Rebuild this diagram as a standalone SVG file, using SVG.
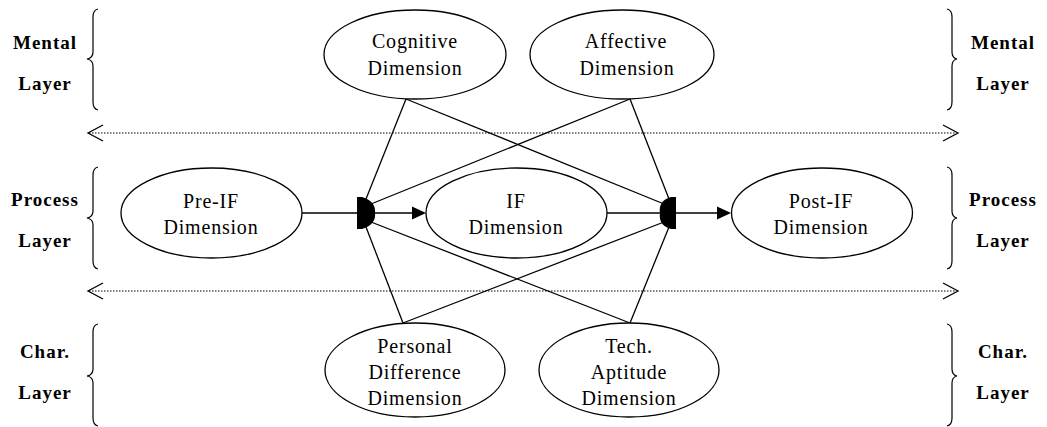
<svg xmlns="http://www.w3.org/2000/svg" width="1047" height="427" viewBox="0 0 1047 427">
<style>
.node ellipse{fill:#fff;stroke:#000;stroke-width:1.3}
.nt{font-family:"Liberation Serif","Times New Roman",serif;font-size:20px;letter-spacing:0.8px;text-anchor:middle;fill:#000}
.lab{font-family:"Liberation Serif","Times New Roman",serif;font-size:19px;font-weight:bold;letter-spacing:1px;text-anchor:middle;fill:#000}
.brace{fill:none;stroke:#000;stroke-width:1.2}
.ln{stroke:#000;stroke-width:1.3;fill:none}
.dot{stroke:#000;stroke-width:1.2;stroke-dasharray:1.5 1.5;fill:none}
.chev{stroke:#000;stroke-width:1.3;fill:none}
.head{fill:#000;stroke:none}
</style>
<rect width="1047" height="427" fill="#fff"/>

<g id="layer-labels">
<text class="lab" x="45" y="49">Mental</text>
<text class="lab" x="45" y="90">Layer</text>
<text class="lab" x="1003" y="49">Mental</text>
<text class="lab" x="1003" y="90">Layer</text>
<text class="lab" x="45" y="206">Process</text>
<text class="lab" x="45" y="247">Layer</text>
<text class="lab" x="1003" y="206">Process</text>
<text class="lab" x="1003" y="247">Layer</text>
<text class="lab" x="45" y="358">Char.</text>
<text class="lab" x="45" y="399">Layer</text>
<text class="lab" x="1003" y="358">Char.</text>
<text class="lab" x="1003" y="399">Layer</text>
</g>

<g id="braces">
<path class="brace" d="M98,9 Q93,10 93,17 L93,52 Q93,58 87,59 Q93,60 93,66 L93,102 Q93,109 98,110"/>
<path class="brace" d="M947,9 Q952,10 952,17 L952,52 Q952,58 957,59 Q952,60 952,66 L952,102 Q952,109 947,110"/>
<path class="brace" d="M98,167 Q93,168 93,175 L93,211 Q93,217 87,218 Q93,219 93,225 L93,261 Q93,268 98,269"/>
<path class="brace" d="M947,167 Q952,168 952,175 L952,211 Q952,217 957,218 Q952,219 952,225 L952,261 Q952,268 947,269"/>
<path class="brace" d="M98,324 Q93,325 93,332 L93,369 Q93,375 87,376 Q93,377 93,383 L93,418 Q93,425 98,426"/>
<path class="brace" d="M947,324 Q952,325 952,332 L952,369 Q952,375 957,376 Q952,377 952,383 L952,418 Q952,425 947,426"/>
</g>

<g id="dividers">
<line class="dot" x1="89" y1="133" x2="956" y2="133"/>
<polyline class="chev" points="103,125 88,133 103,141"/>
<polyline class="chev" points="943,125 958,133 943,141"/>
<line class="dot" x1="89" y1="291" x2="956" y2="291"/>
<polyline class="chev" points="103,283 88,291 103,299"/>
<polyline class="chev" points="943,283 958,291 943,299"/>
</g>

<g id="connectors">
<line class="ln" x1="302" y1="213" x2="359" y2="213"/>
<line class="ln" x1="406" y1="99" x2="366" y2="199"/>
<line class="ln" x1="630" y1="99" x2="371" y2="204"/>
<line class="ln" x1="403" y1="323" x2="366" y2="227"/>
<line class="ln" x1="630" y1="323" x2="371" y2="222"/>
<path class="head" d="M357,197 L362,197 C372,200 376,206 375,213 C376,220 372,226 362,229 L357,229 Z"/>
<line class="ln" x1="374" y1="213" x2="413" y2="213"/>
<polygon class="head" points="412,206.5 426,213 412,219.5"/>

<line class="ln" x1="607" y1="213" x2="662" y2="213"/>
<line class="ln" x1="406" y1="99" x2="664" y2="204"/>
<line class="ln" x1="630" y1="99" x2="669" y2="199"/>
<line class="ln" x1="403" y1="323" x2="664" y2="222"/>
<line class="ln" x1="630" y1="323" x2="669" y2="227"/>
<path class="head" d="M676,197 L671,197 C661,200 659,206 660,213 C659,220 661,226 671,229 L676,229 Z"/>
<line class="ln" x1="676" y1="213" x2="718" y2="213"/>
<polygon class="head" points="717,206.5 731,213 717,219.5"/>
</g>

<g id="cognitive" class="node">
<ellipse cx="415" cy="54.5" rx="91" ry="44.5"/>
<text class="nt" x="415" y="48">Cognitive</text>
<text class="nt" x="415" y="75">Dimension</text>
</g>
<g id="affective" class="node">
<ellipse cx="622" cy="54.5" rx="92" ry="44.5"/>
<text class="nt" x="626" y="48">Affective</text>
<text class="nt" x="627" y="75">Dimension</text>
</g>
<g id="pre-if" class="node">
<ellipse cx="211.5" cy="213" rx="90.5" ry="45"/>
<text class="nt" x="211" y="208">Pre-IF</text>
<text class="nt" x="211" y="234">Dimension</text>
</g>
<g id="if" class="node">
<ellipse cx="516.5" cy="213" rx="90.5" ry="45"/>
<text class="nt" x="516" y="208">IF</text>
<text class="nt" x="516" y="234">Dimension</text>
</g>
<g id="post-if" class="node">
<ellipse cx="822" cy="213" rx="90.5" ry="45"/>
<text class="nt" x="821" y="208">Post-IF</text>
<text class="nt" x="821" y="234">Dimension</text>
</g>
<g id="personal" class="node">
<ellipse cx="415" cy="370" rx="90" ry="47"/>
<text class="nt" x="415" y="353">Personal</text>
<text class="nt" x="415" y="379">Difference</text>
<text class="nt" x="415" y="405">Dimension</text>
</g>
<g id="tech" class="node">
<ellipse cx="629" cy="370" rx="90" ry="47"/>
<text class="nt" x="629" y="353">Tech.</text>
<text class="nt" x="629" y="379">Aptitude</text>
<text class="nt" x="629" y="405">Dimension</text>
</g>
</svg>
